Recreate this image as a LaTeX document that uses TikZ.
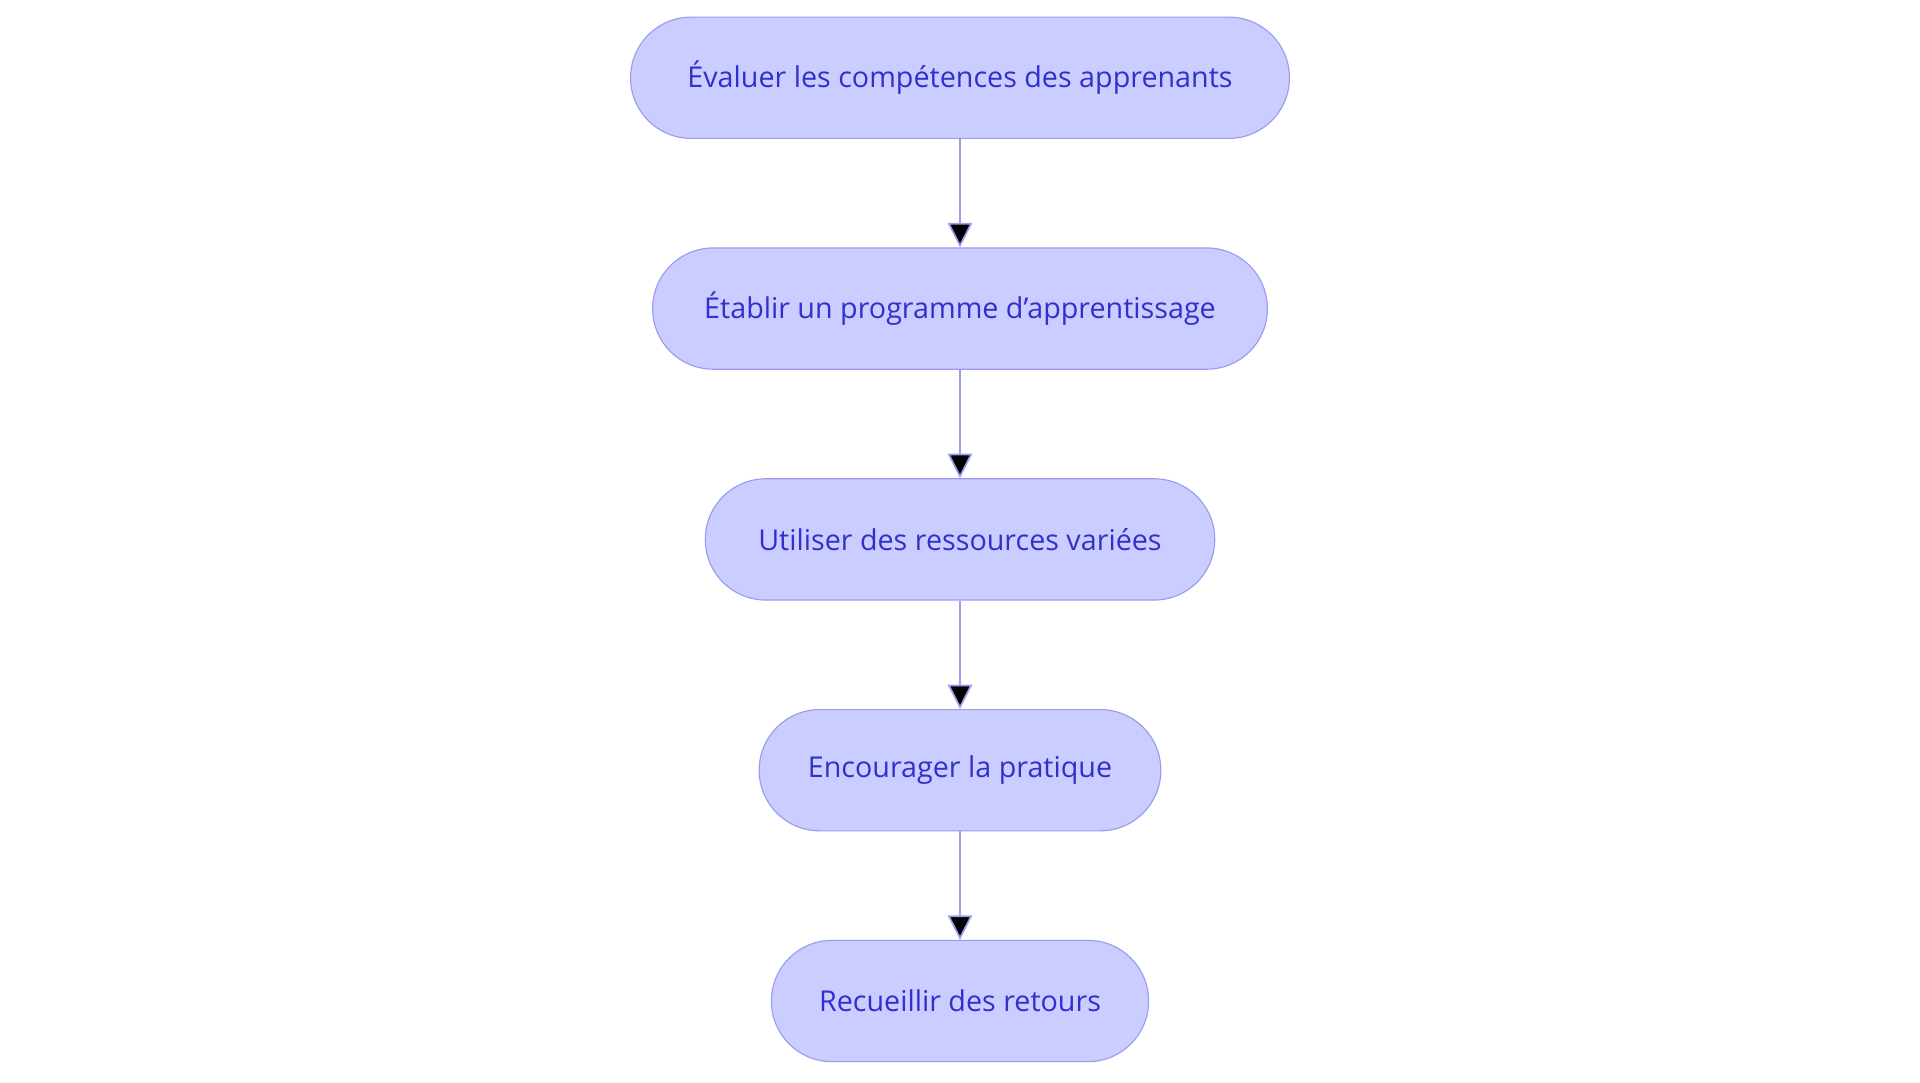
\documentclass[tikz,border=0pt]{standalone}
\usepackage{fontspec}
\setmainfont{Open Sans}
\usetikzlibrary{arrows.meta}
\definecolor{boxfill}{HTML}{CBCCFF}
\definecolor{boxline}{HTML}{9B9DEC}
\definecolor{boxtext}{HTML}{3030CC}

\begin{document}
\begin{tikzpicture}[x=0.03cm,y=-0.03cm,>={Triangle[length=0.6cm,width=0.6cm]},
      thick,step node/.style={draw=boxline,fill=boxfill,text=boxtext,
      rounded corners=1.48cm,minimum height=2.97cm,inner sep=0pt,
      font=\fontsize{20}{24}\selectfont}]

      \useasboundingbox (0,0) rectangle (1568,884);

      \node[step node,minimum width=16.14cm] (eval) at (784,63.5) {Évaluer les compétences des apprenants};
      \node[step node,minimum width=15.06cm] (prog) at (784,252) {Établir un programme d'apprentissage};
      \node[step node,minimum width=12.48cm] (res) at (784,440.5) {Utiliser des ressources variées};
      \node[step node,minimum width=9.84cm] (prat) at (784,629) {Encourager la pratique};
      \node[step node,minimum width=9.24cm] (ret) at (784,817.5) {Recueillir des retours};

      \path[->,draw=boxline,line width=1.2pt,every node/.style={}]
      (eval) edge (prog)
      (prog) edge (res)
      (res) edge (prat)
      (prat) edge (ret);
    \end{tikzpicture}
\end{document}
